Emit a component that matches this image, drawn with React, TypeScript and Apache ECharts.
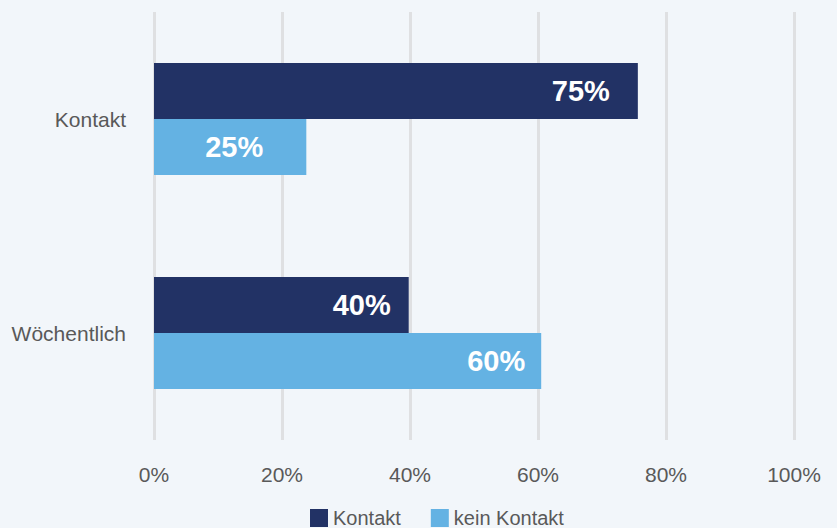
import React, { useEffect, useRef } from "react";
import * as echarts from "echarts";

const categories = ["Kontakt", "Wöchentlich"];
const seriesNames = ["Kontakt", "kein Kontakt"];
const kontaktValues = [75.6, 39.8];
const keinKontaktValues = [23.8, 60.5];
const kontaktLabels = ["75%", "40%"];
const keinKontaktLabels = ["25%", "60%"];
const tickValues = [0, 20, 40, 60, 80, 100];

const FONT = "'Liberation Sans', Arial, Helvetica, sans-serif";
const DARK = "#223265";
const LIGHT = "#64b2e3";

export default function App() {
  const ref = useRef<HTMLDivElement>(null);
  useEffect(() => {
    if (!ref.current) return;
    const chart = echarts.init(ref.current, undefined, { renderer: "svg" });
    const labelBase = {
      show: true,
      color: "#ffffff",
      fontFamily: FONT,
      fontWeight: "bold" as const,
      fontSize: 29,
    };
    chart.setOption({
      animation: false,
      backgroundColor: "#f2f6fa",
      textStyle: { fontFamily: FONT },
      grid: { left: 154, right: 43, top: 12, bottom: 88, containLabel: false },
      legend: {
        left: 305,
        top: 503,
        icon: "rect",
        itemWidth: 18,
        itemHeight: 18,
        itemGap: 30,
        itemTextGap: 6,
        textStyle: { fontSize: 20, color: "#595959", fontFamily: FONT, lineHeight: 20 },
        data: seriesNames,
      },
      xAxis: {
        type: "value",
        min: tickValues[0],
        max: tickValues[tickValues.length - 1],
        interval: 20,
        axisLine: { show: false },
        axisTick: { show: false },
        axisLabel: {
          formatter: (v: number) => v + "%",
          fontSize: 21,
          color: "#595959",
          margin: 24,
          fontFamily: FONT,
        },
        splitLine: { show: true, lineStyle: { color: "#dfe0e2", width: 3 } },
      },
      yAxis: {
        type: "category",
        data: categories,
        inverse: true,
        axisLine: { show: false },
        axisTick: { show: false },
        axisLabel: {
          fontSize: 21,
          color: "#595959",
          margin: 28,
          fontFamily: FONT,
          lineHeight: 21,
          padding: [0, 0, 8, 0],
        },
        splitLine: { show: false },
      },
      series: [
        {
          name: seriesNames[0],
          type: "bar",
          barWidth: 56,
          barGap: "0%",
          itemStyle: { color: DARK },
          data: kontaktValues.map((v, i) => ({
            value: v,
            label: {
              ...labelBase,
              position: "insideRight",
              distance: i === 0 ? 28 : 18,
              formatter: () => kontaktLabels[i],
            },
          })),
        },
        {
          name: seriesNames[1],
          type: "bar",
          barWidth: 56,
          barGap: "0%",
          itemStyle: { color: LIGHT },
          data: keinKontaktValues.map((v, i) => ({
            value: v,
            label: {
              ...labelBase,
              position: i === 0 ? "inside" : "insideRight",
              offset: i === 0 ? [4, 0] : [0, 0],
              distance: 16,
              formatter: () => keinKontaktLabels[i],
            },
          })),
        },
      ],
    });
    return () => chart.dispose();
  }, []);
  return (
    <div
      ref={ref}
      style={{ position: "fixed", left: 0, top: 0, width: 837, height: 528 }}
    />
  );
}
